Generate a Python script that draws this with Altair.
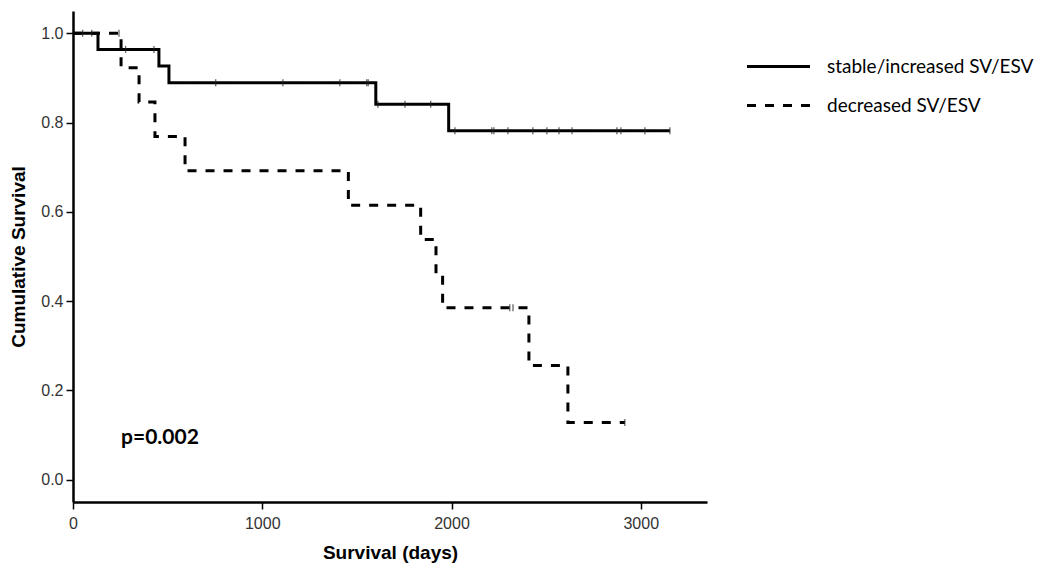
import altair as alt
import pandas as pd

# ---- data ----
groups = ["stable/increased SV/ESV", "decreased SV/ESV"]

stable_t = [0, 132, 454, 507, 1600, 1985, 3154]
stable_s = [1.0, 0.964, 0.927, 0.889, 0.841, 0.782, 0.782]

decr_t = [0, 254, 349, 433, 592, 1455, 1837, 1918, 1953, 2409, 2615, 2916]
decr_s = [1.0, 0.923, 0.846, 0.769, 0.692, 0.615, 0.538, 0.462, 0.385, 0.256, 0.128, 0.128]

stable_cens_t = [51, 99, 278, 428, 754, 1109, 1410, 1552, 1560, 1611, 1754, 1890,
                 2018, 2213, 2224, 2298, 2430, 2504, 2568, 2637, 2874, 2895, 3022, 3154]
stable_cens_s = [1.0, 1.0, 0.964, 0.964, 0.889, 0.889, 0.889, 0.889, 0.889, 0.841, 0.841, 0.841,
                 0.782, 0.782, 0.782, 0.782, 0.782, 0.782, 0.782, 0.782, 0.782, 0.782, 0.782, 0.782]

decr_cens_t = [243, 2308, 2325, 2916]
decr_cens_s = [1.0, 0.385, 0.385, 0.128]

x_ticks = [0, 1000, 2000, 3000]
y_ticks = [0.0, 0.2, 0.4, 0.6, 0.8, 1.0]
p_text = "p=0.002"

# ---- tables ----
curves = pd.concat([
    pd.DataFrame({"t": stable_t, "s": stable_s, "group": groups[0], "order": range(len(stable_t))}),
    pd.DataFrame({"t": decr_t, "s": decr_s, "group": groups[1], "order": range(len(decr_t))}),
])
cens = pd.concat([
    pd.DataFrame({"t": stable_cens_t, "s": stable_cens_s, "group": groups[0]}),
    pd.DataFrame({"t": decr_cens_t, "s": decr_cens_s, "group": groups[1]}),
])
ann = pd.DataFrame({"t": [254], "s": [0.094], "label": [p_text]})

xs = alt.Scale(domain=[0, 3350], nice=False, zero=False)
ys = alt.Scale(domain=[-0.05, 1.05], nice=False, zero=False)

xax = alt.Axis(values=x_ticks, format="d", title="Survival (days)", grid=False)
yax = alt.Axis(values=y_ticks, format=".1f", title="Cumulative Survival", grid=False)

lines = alt.Chart(curves).mark_line(
    interpolate="step-after", color="black", strokeWidth=3, strokeCap="butt"
).encode(
    x=alt.X("t:Q", scale=xs, axis=xax),
    y=alt.Y("s:Q", scale=ys, axis=yax),
    strokeDash=alt.StrokeDash(
        "group:N",
        scale=alt.Scale(domain=groups, range=[[1, 0], [9, 9]]),
        legend=alt.Legend(
            title=None, orient="none", legendX=688, legendY=38,
            symbolType="M-2,0H2", symbolSize=992, symbolStrokeWidth=3,
            symbolStrokeColor="black", labelFont="Lato", labelFontSize=19,
            labelColor="black", labelOffset=31, rowPadding=11, padding=0,
            labelLimit=0,
        ),
    ),
    order="order:Q",
)

ticks = alt.Chart(cens).mark_tick(
    orient="vertical", color="#222", size=7, thickness=1.3
).encode(
    x=alt.X("t:Q", scale=xs),
    y=alt.Y("s:Q", scale=ys),
)

text = alt.Chart(ann).mark_text(
    align="left", baseline="middle", font="Lato", fontWeight="bold", fontSize=21, color="black"
).encode(
    x=alt.X("t:Q", scale=xs),
    y=alt.Y("s:Q", scale=ys),
    text="label:N",
)

chart = alt.layer(lines, ticks, text).properties(
    width=634, height=491,
    autosize=alt.AutoSizeParams(type="none"),
    padding={"left": 65, "top": 3, "right": 330, "bottom": 66},
).configure_view(stroke=None).configure_axis(
    domainColor="black", domainWidth=2.5, tickColor="black", tickWidth=1.5, tickSize=7,
    labelFont="Liberation Sans", labelFontSize=16, labelColor="#333",
    titleFont="Liberation Sans", titleFontSize=19, titleFontWeight="bold", titleColor="black",
).configure_axisX(
    labelPadding=6, titlePadding=12, labelFlush=False,
).configure_axisY(
    labelPadding=3, titlePadding=12, labelFlush=False,
)

chart.save("out.html", embed_options={"renderer": "svg", "actions": False})
